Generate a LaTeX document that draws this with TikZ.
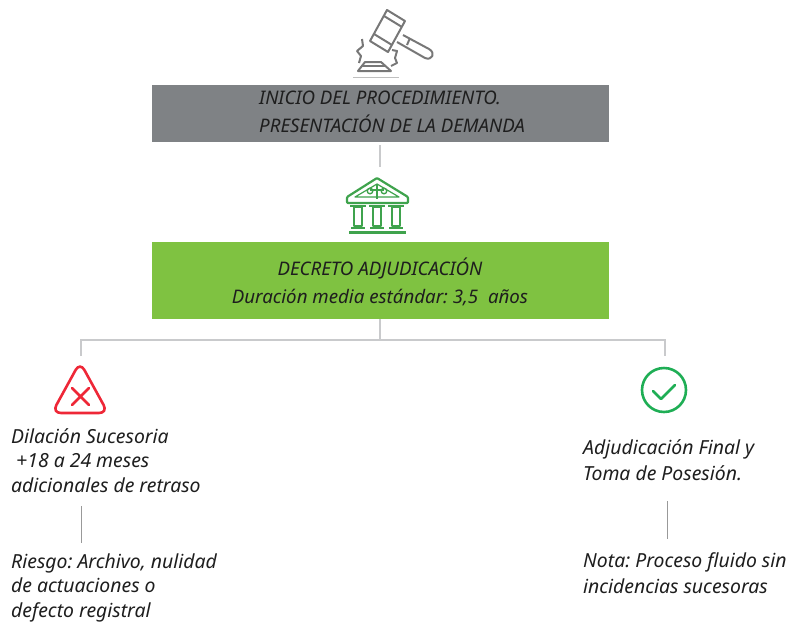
\documentclass[tikz,border=0pt]{standalone}
\usepackage{fontspec}
\setmainfont{Noto Sans}
\frenchspacing
\definecolor{boxgray}{HTML}{7F8285}
\definecolor{boxgreen}{HTML}{7FC241}
\definecolor{linegray}{HTML}{C9CACC}
\definecolor{iconred}{HTML}{EE2737}
\definecolor{icongreen}{HTML}{1FAE55}
\definecolor{courtgreen}{HTML}{3FA34D}
\definecolor{gavelgray}{HTML}{777777}
\definecolor{txt}{HTML}{1E1E1E}
\tikzset{
  x=1pt,y=-1pt,
  banner/.style={inner sep=0pt,minimum width=457pt,anchor=north west},
  lbl/.style={inner sep=0pt,anchor=base west,align=left,text=txt,font=\frenchspacing\fontsize{19.4}{24.5}\selectfont\itshape},
  conn/.style={linegray,line width=2.4pt},
  thin conn/.style={draw=gray!80,line width=1pt},
  gavel/.style={gavelgray,line width=2pt,line join=round},
  court/.style={courtgreen,line width=2.2pt,line join=round},
}
\begin{document}
\begin{tikzpicture}
\useasboundingbox (0,0) rectangle (788,622);
% banners
\node[banner,fill=boxgray,minimum height=57pt] (start) at (152,85) {};
\node[lbl,font=\frenchspacing\fontsize{18.7}{28}\selectfont\itshape] (starttext) at (259,132) {INICIO DEL PROCEDIMIENTO.\\PRESENTACIÓN DE LA DEMANDA};
\node[banner,fill=boxgreen,minimum height=77pt] (decree) at (152,242) {};
\node[inner sep=0pt,align=center,text=txt,font=\frenchspacing\fontsize{18.7}{28}\selectfont\itshape] (decreetext) at (380,282) {DECRETO ADJUDICACIÓN\\Duración media estándar: 3,5\ \ años};
% connectors
\coordinate (a1) at (380,145);
\coordinate (a2) at (380,167);
\draw[conn] (a1) -- (a2);
\coordinate (j) at (380,340);
\coordinate (lt) at (81,356);
\coordinate (rt) at (665,356);
\draw[conn] (decree.south -| j) -- (j);
\draw[conn] (lt) -- (81,340) -- (665,340) -- (rt);
% gavel
\begin{scope}[gavel]
  \draw (387,10) -- (405,21) -- (388,52) -- (370,41) -- cycle;
  \draw (384,16) -- (402,27) (374,34) -- (392,45);
  \draw (403,35) -- (429,49) .. controls (436,53) and (432,61) .. (425,58) -- (397,42);
  \draw (410,38) -- (407,45);
  \draw (362,39) -- (363,46) -- (357,51) -- (361,56) -- (359,63);
  \draw (392,50) -- (397,51) -- (395,58) -- (397,63) -- (391,66);
  \draw (365,62) -- (381,62) -- (391,71) -- (358,71) -- cycle;
  \draw (362,66) -- (385,66);
  \draw[line width=.8pt,gray!50] (353,77) -- (399,77);
\end{scope}
% court
\begin{scope}[court]
  \draw[rounded corners=1pt] (377,178) -- (347,197) -- (347,203) -- (408,203) -- (408,197) -- cycle;
  \draw[line width=1.2pt] (377,184) -- (355,197) -- (399,197) -- cycle;
  \draw (377,185) -- (377,199) (370,190) -- (384,190);
  \draw[line width=1.4pt] (370,191) circle (2.8) (384,191) circle (2.8);
  \foreach \cx in {358,377,396}{
    \draw (\cx-8,206) -- (\cx+8,206);
    \draw (\cx-4,207) rectangle (\cx+4,226);
    \draw (\cx-7,228) -- (\cx+7,228);
  }
  \draw[line width=3pt] (349,232) -- (406,232);
\end{scope}
% status icons
\draw[iconred,line width=2.6pt,rounded corners=9pt] (80,362) -- (108,413) -- (52,413) -- cycle;
\draw[iconred,line width=2.6pt,line cap=round] (72,388) -- (89,405) (89,388) -- (72,405);
\draw[icongreen,line width=2.6pt] (664,390) circle (22);
\draw[icongreen,line width=2.8pt,line cap=round,line join=round] (653,391) -- (661,399) -- (675,385);
% left column
\node[lbl] (dil) at (11,492) {Dilación Sucesoria\\\ +18 a 24 meses\\adicionales de retraso};
\node[lbl] (riesgo) at (11,617) {Riesgo: Archivo, nulidad\\de actuaciones o\\defecto registral};
\coordinate (l1) at (81,506);
\coordinate (l2) at (81,543);
\draw[thin conn] (l1) -- (l2);
% right column
\node[lbl,font=\frenchspacing\fontsize{19.4}{26}\selectfont\itshape] (adj) at (583,480) {Adjudicación Final y\\Toma de Posesión.};
\node[lbl,font=\frenchspacing\fontsize{19.4}{26}\selectfont\itshape] (nota) at (583,593) {Nota: Proceso fluido sin\\incidencias sucesoras};
\coordinate (r1) at (667,501);
\coordinate (r2) at (667,539);
\draw[thin conn] (r1) -- (r2);
\end{tikzpicture}
\end{document}
